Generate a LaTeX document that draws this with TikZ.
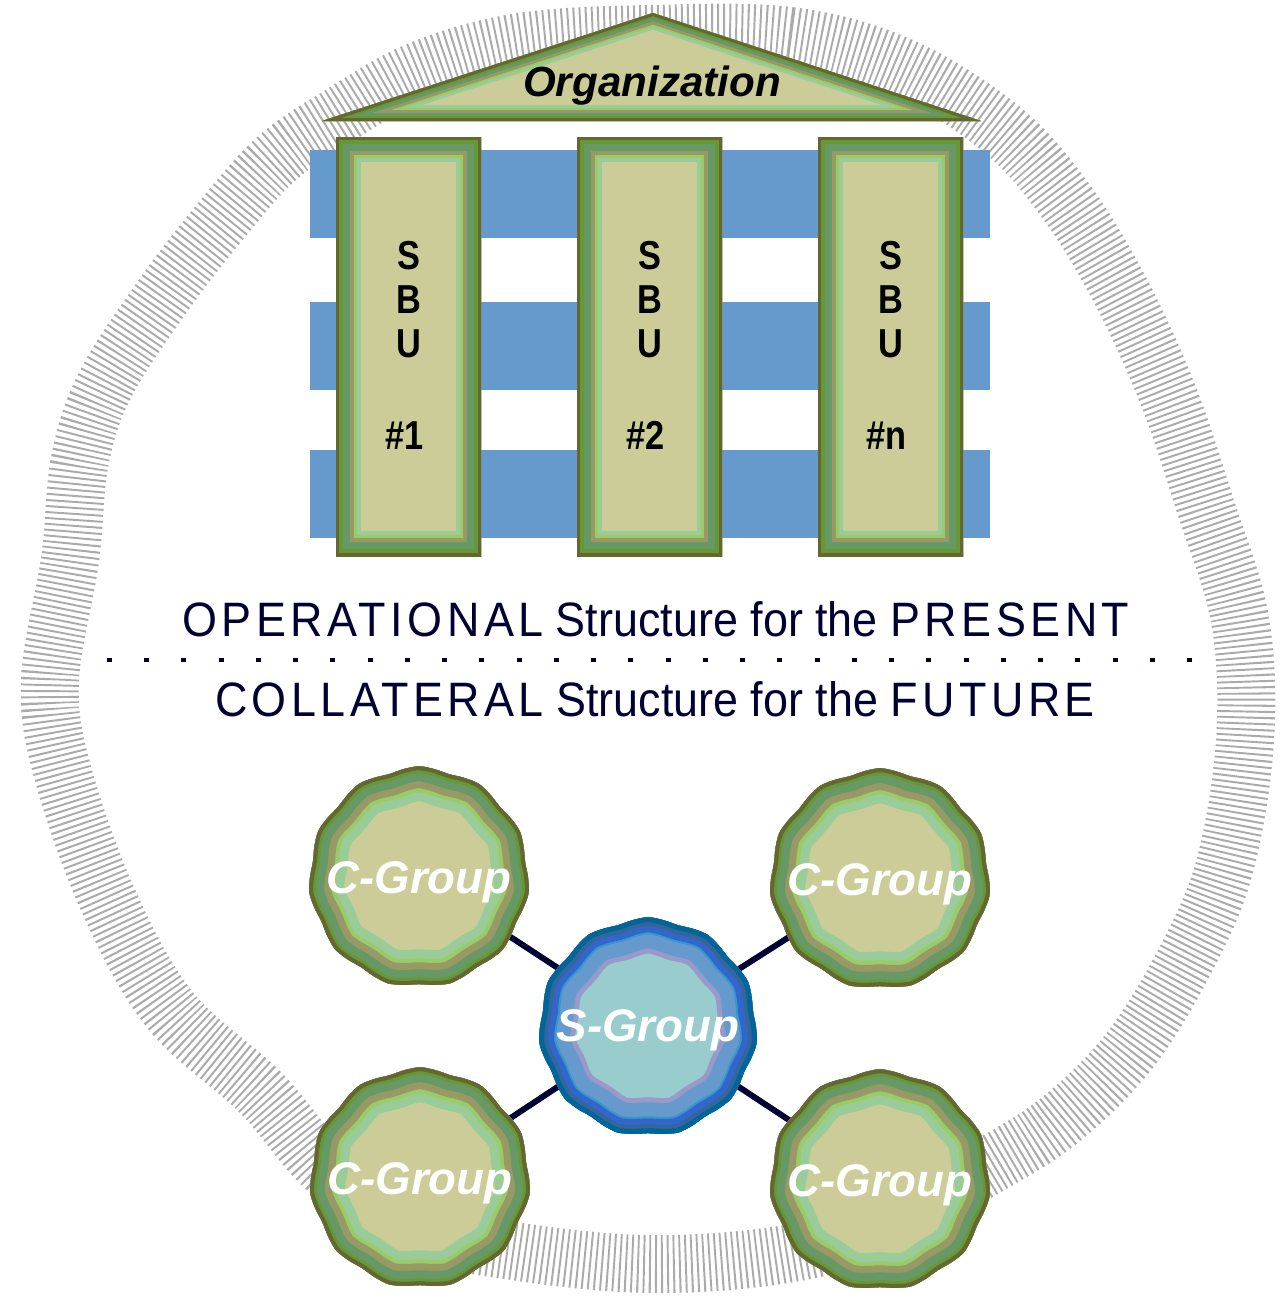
\documentclass[tikz,border=0pt]{standalone}
\usepackage{fontspec}
\usepackage{tikz}
\usetikzlibrary{positioning}

\setmainfont{Liberation Sans}
\newfontfamily\pixfont[FakeStretch=0.85]{Liberation Sans}
\newfontfamily\capsfont[LetterSpace=10]{Liberation Sans}

\definecolor{olivedk}{HTML}{666633}
\definecolor{grn}{HTML}{669933}
\definecolor{grnmid}{HTML}{669966}
\definecolor{khaki}{HTML}{999966}
\definecolor{lime}{HTML}{99CC66}
\definecolor{mint}{HTML}{99CC99}
\definecolor{tan}{HTML}{CCCC99}
\definecolor{sky}{HTML}{6699CC}
\definecolor{navy}{HTML}{000033}
\definecolor{ringgray}{HTML}{AAAAAA}
\definecolor{teal}{HTML}{006699}
\definecolor{steel}{HTML}{336699}
\definecolor{royal}{HTML}{3366CC}
\definecolor{cyanb}{HTML}{3399CC}
\definecolor{lav}{HTML}{9999CC}
\definecolor{aqua}{HTML}{99CCCC}

% layered border: path, inner fill, list macro of (band in px)/colour from inside out
\newcommand{\layered}[3]{%
  \begin{scope}
    \clip #1;
    \fill[#2] #1;
    \foreach \w/\c in #3 {\draw[\c, line width=\w*1.134pt] #1;}
  \end{scope}}
\newcommand{\roofbands}{16/mint,13/lime,11/khaki,8/grnmid,5/grn,3/olivedk}
\newcommand{\greenbands}{25/mint,21/lime,18/khaki,14/grnmid,7/grn,3/olivedk}
\newcommand{\roundbands}{35/mint,26/lime,22/khaki,15/grnmid,7/grn,4/olivedk}
\newcommand{\bluebands}{36/lav,31/sky,17/cyanb,15/royal,9/steel,5/teal}
% slightly bumpy blob round the origin
\newcommand{\blob}[2]{[shift={(#1)}] plot[smooth cycle, variable=\t, samples=44, domain=0:352]
  ({(#2+1.8*sin(11*\t))*cos(\t)}, {(#2+1.8*sin(11*\t))*sin(\t)})}

\tikzset{
  ring/.style={draw=ringgray, line width=33pt, dash pattern=on 1.1pt off 2.3pt},
  band/.style={fill=sky},
  sbu/.style={font=\pixfont\bfseries\fontsize{23}{24}\selectfont, text=black, inner sep=0pt, anchor=base},
  headline/.style={font=\fontsize{27}{30}\selectfont, text=navy, inner sep=0pt, anchor=base},
  dotline/.style={navy, line width=2.8pt, dash pattern=on 2.8pt off 18.4pt},
  link/.style={navy, line width=3.4pt},
  grouplabel/.style={font=\bfseries\itshape\fontsize{26}{28}\selectfont, text=white, inner sep=0pt, anchor=base}
}

\begin{document}
\begin{tikzpicture}[x=0.02cm, y=-0.02cm]
\useasboundingbox (0,0) rectangle (1281,1303);

% textured ring behind everything
\draw[ring] plot[smooth cycle, tension=0.6] coordinates {
  (650,34) (790,36) (900,66) (1000,128) (1065,200) (1120,290) (1168,395)
  (1205,505) (1240,620) (1245,740) (1225,865) (1188,955) (1130,1050)
  (1060,1120) (985,1168) (880,1228) (780,1255) (650,1264) (520,1252)
  (420,1230) (330,1172) (260,1092) (170,1010) (108,900) (62,770) (50,680)
  (70,560) (80,460) (105,385) (160,300) (215,228) (275,160) (340,115)
  (420,70) (520,42)};

% blue floors
\foreach \y in {150,302,450}
  \fill[band] (310,\y) rectangle (990,\y+88);

% roof
\coordinate (apex) at (653,13);
\coordinate (eaveL) at (322,121);
\coordinate (eaveR) at (981,121);
\layered{(apex) -- (eaveR) -- (eaveL) -- cycle}{tan}{\roofbands}
\node[font=\bfseries\itshape\fontsize{24}{26}\selectfont, inner sep=0pt, anchor=base] (org) at (652,96) {Organization};

% pillars
\foreach \i/\x/\num in {1/408.5/1,2/649.5/2,3/890.5/n} {
  \layered{(\x-72.5,137) rectangle (\x+72.5,556)}{tan}{\greenbands}
  \node[sbu] (s\i) at (\x,269) {S};
  \node[sbu] (b\i) at (\x,313) {B};
  \node[sbu] (u\i) at (\x,357) {U};
  \node[sbu] (n\i) at (\x-4,449) {\#\num};
}

% the dividing line and its captions
\node[headline] (present) at (656,636)
  {\resizebox{18.94cm}{0.7cm}{{\capsfont OPERATIONAL} Structure for the {\capsfont PRESENT}}};
\coordinate (dl) at (107,660);
\coordinate (dr) at (1195,660);
\draw[dotline] (dl) -- (dr);
\node[headline] (future) at (655,716)
  {\resizebox{17.6cm}{0.7cm}{{\capsfont COLLATERAL} Structure for the {\capsfont FUTURE}}};

% groups
\coordinate (sg) at (648,1027);
\coordinate (cg1) at (419,877);
\coordinate (cg2) at (880,879);
\coordinate (cg3) at (420,1178);
\coordinate (cg4) at (880,1180);
\foreach \g in {cg1,cg2,cg3,cg4}
  \draw[link] (sg) -- (\g);
\foreach \g in {cg1,cg2,cg3,cg4} {
  \layered{\blob{\g}{109}}{tan}{\roundbands}
}
\layered{\blob{sg}{108}}{aqua}{\bluebands}

\node[grouplabel] (cg1l) at (cg1) [yshift=-9.5pt] {C-Group};
\node[grouplabel] (cg2l) at (cg2) [yshift=-9.5pt] {C-Group};
\node[grouplabel] (cg3l) at (cg3) [yshift=-9.5pt] {C-Group};
\node[grouplabel] (cg4l) at (cg4) [yshift=-9.5pt] {C-Group};
\node[grouplabel] (sgl) at (sg) [yshift=-8.5pt] {S-Group};
\end{tikzpicture}
\end{document}
